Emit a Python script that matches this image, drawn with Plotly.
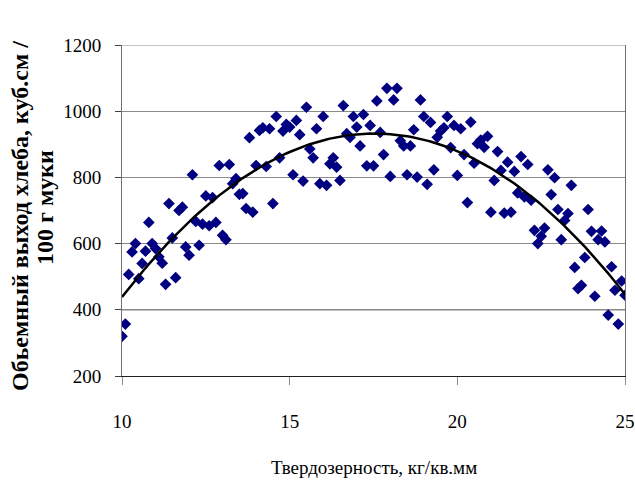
import numpy as np
import plotly.graph_objects as go

# Hardness (x) values, kg/sq.mm
hardness = [
    10.0, 10.1, 10.2, 10.3, 10.4, 10.5, 10.6, 10.7, 10.8, 10.9,
    11.0, 11.1, 11.2, 11.3, 11.4, 11.5, 11.6, 11.7, 11.8, 11.9,
    12.0, 12.1, 12.2, 12.3, 12.4, 12.5, 12.6, 12.7, 12.8, 12.9,
    13.0, 13.1, 13.2, 13.3, 13.4, 13.5, 13.6, 13.7, 13.8, 13.9,
    14.0, 14.1, 14.2, 14.3, 14.4, 14.5, 14.6, 14.7, 14.8, 14.9,
    15.0, 15.1, 15.2, 15.3, 15.4, 15.5, 15.6, 15.7, 15.8, 15.9,
    16.0, 16.1, 16.2, 16.3, 16.4, 16.5, 16.6, 16.7, 16.8, 16.9,
    17.0, 17.1, 17.2, 17.3, 17.4, 17.5, 17.6, 17.7, 17.8, 17.9,
    18.0, 18.1, 18.2, 18.3, 18.4, 18.5, 18.6, 18.7, 18.8, 18.9,
    19.0, 19.1, 19.2, 19.3, 19.4, 19.5, 19.6, 19.7, 19.8, 19.9,
    20.0, 20.1, 20.2, 20.3, 20.4, 20.5, 20.6, 20.7, 20.8, 20.9,
    21.0, 21.1, 21.2, 21.3, 21.4, 21.5, 21.6, 21.7, 21.8, 21.9,
    22.0, 22.1, 22.2, 22.3, 22.4, 22.5, 22.6, 22.7, 22.8, 22.9,
    23.0, 23.1, 23.2, 23.3, 23.4, 23.5, 23.6, 23.7, 23.8, 23.9,
    24.0, 24.1, 24.2, 24.3, 24.4, 24.5, 24.6, 24.7, 24.8, 24.9,
    25.0,
]

# Bread volume (y) values, cc / 100 g flour
volume = [
    320, 357, 507, 575, 600, 494, 540, 577, 664, 600,
    585, 560, 541, 477, 721, 617, 497, 700, 710, 590,
    565, 808, 667, 595, 659, 744, 654, 739, 664, 836,
    625, 612, 839, 781, 796, 749, 751, 706, 920, 695,
    836, 942, 950, 833, 947, 721, 984, 859, 940, 960,
    952, 808, 972, 929, 789, 1012, 886, 859, 947, 781,
    984, 776, 841, 859, 831, 791, 1017, 932, 921, 984,
    952, 895, 990, 835, 957, 835, 1031, 936, 869, 1069,
    803, 1034, 1069, 911, 895, 808, 895, 944, 801, 1034,
    984, 779, 966, 823, 921, 940, 950, 984, 890, 957,
    806, 947, 869, 724, 967, 843, 902, 913, 891, 924,
    695, 791, 878, 821, 692, 846, 695, 818, 753, 863,
    741, 839, 731, 640, 600, 622, 647, 823, 748, 799,
    703, 612, 670, 691, 776, 528, 464, 474, 558, 703,
    637, 441, 612, 638, 605, 384, 530, 459, 357, 487,
    444,
]

x_ticks = [10, 15, 20, 25]
y_ticks = [200, 400, 600, 800, 1000, 1200]

x_title = "Твердозерность, кг/кв.мм"
y_title_line1 = "Обьемный выход хлеба, куб.см /"
y_title_line2 = "100 г муки"

# Quadratic trend line fitted to the data
coef = np.polyfit(hardness, volume, 2)
trend_x = np.array(hardness)
trend_y = np.polyval(coef, trend_x)

FONT = "Liberation Serif"
L, R, T, B = 122, 10, 45, 104
PW = 635 - L - R
PH = 480 - T - B

fig = go.Figure()
fig.add_trace(go.Scatter(
    x=hardness, y=volume, mode="markers",
    marker=dict(symbol="diamond", size=9, color="#000080", line=dict(width=0)),
    showlegend=False, hoverinfo="x+y",
))
fig.add_trace(go.Scatter(
    x=trend_x, y=trend_y, mode="lines",
    line=dict(color="black", width=2.5),
    showlegend=False, hoverinfo="skip",
))

fig.update_layout(
    template="none",
    width=635, height=480,
    margin=dict(l=L, r=R, t=T, b=B, autoexpand=False),
    paper_bgcolor="white", plot_bgcolor="white",
    font=dict(family=FONT, color="black", size=19),
    xaxis=dict(
        range=[10, 25], tickvals=x_ticks, ticktext=[str(v) for v in x_ticks],
        showgrid=False, zeroline=False, automargin=False,
        showline=True, linecolor="#202020", linewidth=1,
        ticks="outside", ticklen=8, tickcolor="#909090", tickwidth=1,
        ticklabelstandoff=20,
        tickfont=dict(family=FONT, size=19, color="black"),
    ),
    yaxis=dict(
        range=[200, 1200], tickvals=y_ticks, ticktext=[str(v) for v in y_ticks],
        showgrid=True, gridcolor="#8a8a8a", gridwidth=1, zeroline=False,
        automargin=False,
        showline=True, linecolor="#707070", linewidth=1, mirror=True,
        ticks="outside", ticklen=6, tickcolor="#404040", tickwidth=1,
        ticklabelstandoff=10,
        tickfont=dict(family=FONT, size=19, color="black"),
    ),
    shapes=[
        dict(type="line", xref="paper", yref="y", x0=0, x1=1, y0=1200, y1=1200,
             line=dict(color="#8a8a8a", width=1)),
        dict(type="line", xref="paper", yref="y", x0=0, x1=1, y0=400, y1=400,
             line=dict(color="#303030", width=1), layer="below"),
    ],
    annotations=[
        dict(text=x_title, xref="paper", yref="paper",
             x=0.5, y=(T + PH - 467) / PH,
             xanchor="center", yanchor="middle", showarrow=False,
             font=dict(family=FONT, size=19, color="black")),
        dict(text="<b>" + y_title_line1 + "</b>",
             xref="paper", yref="paper", x=(20 - L) / PW, y=(T + PH - 216) / PH,
             xanchor="center", yanchor="middle", showarrow=False, textangle=-90,
             font=dict(family=FONT, size=24, color="black")),
        dict(text="<b>" + y_title_line2 + "</b>",
             xref="paper", yref="paper", x=(45 - L) / PW, y=(T + PH - 208) / PH,
             xanchor="center", yanchor="middle", showarrow=False, textangle=-90,
             font=dict(family=FONT, size=24, color="black")),
    ],
)

fig.write_html(
    "out.html",
    config={"displayModeBar": False},
    post_script="document.body.style.margin='0';document.body.style.padding='0';",
)
